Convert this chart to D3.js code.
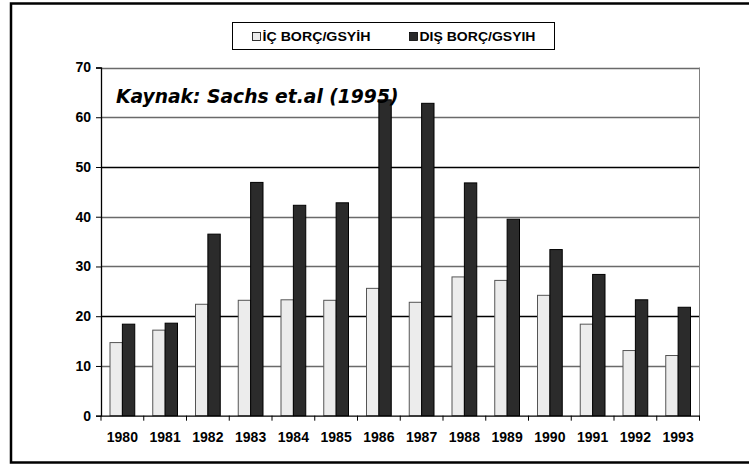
<!DOCTYPE html>
<html>
<head>
<meta charset="utf-8">
<script src="https://cdn.jsdelivr.net/npm/d3@7"></script>
<style>
  body { margin: 0; background: #fff; }
  svg { display: block; }
</style>
</head>
<body>
<svg id="chart"></svg>
<script>
var years = ["1980","1981","1982","1983","1984","1985","1986","1987","1988","1989","1990","1991","1992","1993"]
var icBorc = [14.7, 17.2, 22.4, 23.2, 23.3, 23.2, 25.6, 22.8, 27.9, 27.2, 24.2, 18.4, 13.1, 12.1]
var disBorc = [18.4, 18.6, 36.5, 46.9, 42.3, 42.8, 63.5, 62.8, 46.8, 39.5, 33.4, 28.4, 23.3, 21.8]
var yTicks = [0, 10, 20, 30, 40, 50, 60, 70]
var seriesNames = ["İÇ BORÇ/GSYİH", "DIŞ BORÇ/GSYIH"]
var seriesColors = ["#ececec", "#2b2b2b"]

var W = 749, H = 467
var svg = d3.select("#chart").attr("width", W).attr("height", H)

// outer frame (runs off the right edge like the scan)
svg.append("rect")
    .attr("x", 11).attr("y", 3.5)
    .attr("width", 760).attr("height", 459)
    .attr("fill", "none").attr("stroke", "#000").attr("stroke-width", 2.5)

var plotL = 101, plotR = 699.5, plotT = 67.5, plotB = 415.7

var x = d3.scaleBand().domain(years).range([plotL, plotR]).paddingInner(0).paddingOuter(0)
var y = d3.scaleLinear().domain([0, 70]).range([plotB, plotT])
var inner = d3.scaleBand().domain([0, 1]).range([9, x.bandwidth() - 9])

// gridlines
svg.append("g").selectAll("line")
    .data(yTicks.filter(d => d > 0))
    .join("line")
    .attr("x1", plotL).attr("x2", plotR)
    .attr("y1", d => Math.round(y(d)) + 0.5).attr("y2", d => Math.round(y(d)) + 0.5)
    .attr("stroke", d => (d === 20 || d === 50) ? "#000" : "#6a6a6a")
    .attr("stroke-width", 1.3)

// right edge of plot
svg.append("line")
    .attr("x1", plotR).attr("x2", plotR).attr("y1", plotT).attr("y2", plotB)
    .attr("stroke", "#808080").attr("stroke-width", 1)

// bars
var rows = years.map((yr, i) => ({year: yr, vals: [icBorc[i], disBorc[i]]}))
var groups = svg.append("g").selectAll("g")
    .data(rows)
    .join("g")
    .attr("transform", d => `translate(${x(d.year)},0)`)

groups.selectAll("rect")
    .data(d => d.vals.map((v, k) => ({k: k, v: v})))
    .join("rect")
    .attr("x", d => inner(d.k))
    .attr("y", d => y(d.v))
    .attr("width", inner.bandwidth())
    .attr("height", d => y(0) - y(d.v))
    .attr("fill", d => seriesColors[d.k])
    .attr("stroke", d => d.k === 0 ? "#555" : "#000")
    .attr("stroke-width", 1)

// y axis
var yAxis = svg.append("g")
    .attr("transform", `translate(${plotL},0)`)
    .call(d3.axisLeft(y).tickValues(yTicks).tickSize(5).tickPadding(5))
yAxis.select(".domain").attr("stroke", "#000").attr("stroke-width", 1.3)
yAxis.selectAll("line").attr("stroke", "#000")
yAxis.selectAll("text")
    .attr("font-family", "Liberation Sans, Arial, sans-serif")
    .attr("font-weight", "bold").attr("font-size", 14).attr("fill", "#000")

// x axis
var xAxis = svg.append("g")
    .attr("transform", `translate(0,${plotB})`)
    .call(d3.axisBottom(x).tickSize(0).tickPadding(16))
xAxis.select(".domain").attr("stroke", "#000").attr("stroke-width", 1.3)
xAxis.selectAll("text")
    .attr("font-family", "Liberation Sans, Arial, sans-serif")
    .attr("font-weight", "bold").attr("font-size", 14).attr("fill", "#000")
// tick marks between categories
svg.append("g").selectAll("line")
    .data(years.concat(["end"]))
    .join("line")
    .attr("x1", (d, i) => plotL + i * x.step()).attr("x2", (d, i) => plotL + i * x.step())
    .attr("y1", plotB).attr("y2", plotB + 5)
    .attr("stroke", "#000")

// source note
svg.append("text")
    .attr("x", 116).attr("y", 103)
    .attr("font-family", "DejaVu Sans, Verdana, sans-serif")
    .attr("font-weight", "bold").attr("font-style", "italic")
    .attr("font-size", 18.7)
    .text("Kaynak: Sachs et.al (1995)")

// legend
var lg = svg.append("g")
lg.append("rect")
    .attr("x", 232.5).attr("y", 22.5).attr("width", 322).attr("height", 27)
    .attr("fill", "#fff").attr("stroke", "#000").attr("stroke-width", 1)
var legendX = [252.5, 409.5]
var legendW = [108, 116]
seriesNames.forEach((name, i) => {
    lg.append("rect")
        .attr("x", legendX[i]).attr("y", 32.5).attr("width", 8).attr("height", 8)
        .attr("fill", seriesColors[i]).attr("stroke", "#000").attr("stroke-width", 0.8)
    lg.append("text")
        .attr("x", legendX[i] + 10).attr("y", 41)
        .attr("font-family", "Liberation Sans, Arial, sans-serif")
        .attr("font-weight", "bold").attr("font-size", 12.5)
        .attr("textLength", legendW[i]).attr("lengthAdjust", "spacingAndGlyphs")
        .text(name)
})
</script>
</body>
</html>
